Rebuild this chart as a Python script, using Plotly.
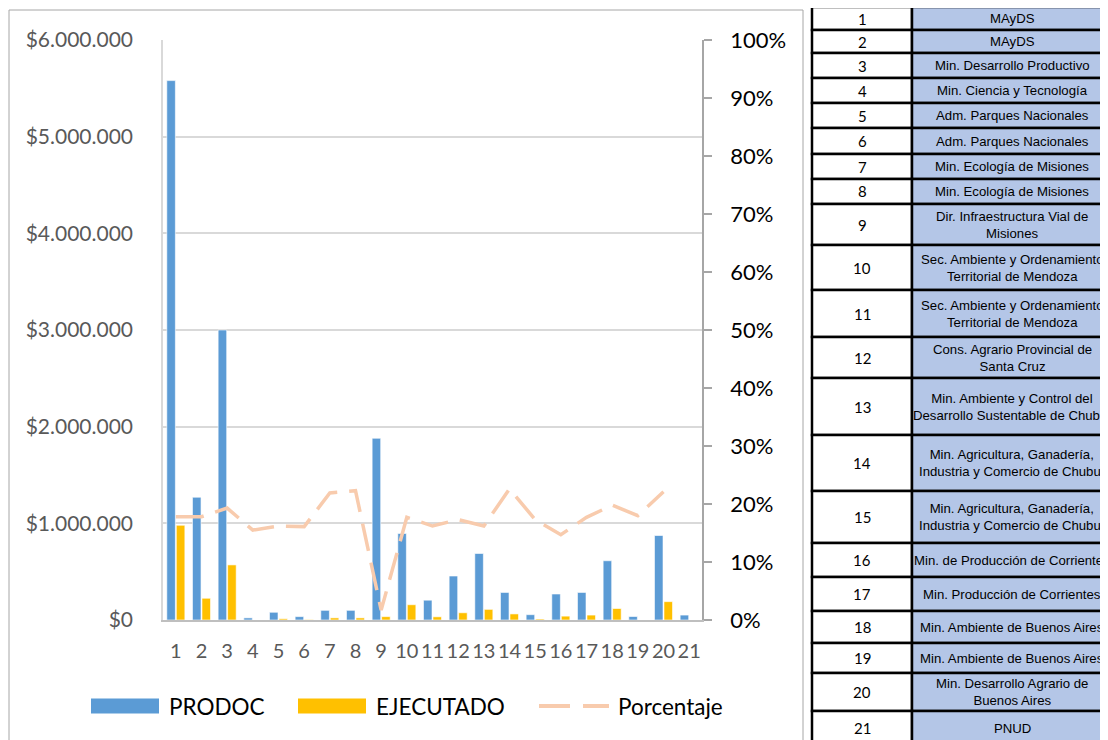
import plotly.graph_objects as go

# ---------------- data ----------------
categories = [str(i) for i in range(1, 22)]
prodoc = [5580000, 1270000, 3000000, 22000, 80000, 35000, 100000, 100000, 1880000, 895000,
          205000, 455000, 688000, 285000, 55000, 269000, 285000, 613000, 36000, 874000, 51000]
ejecutado = [980000, 225000, 570000, 0, 13000, 4000, 22000, 22000, 35000, 158000,
             33000, 75000, 110000, 63000, 10000, 40000, 51000, 119000, 0, 190000, 0]
porcentaje = [0.178, 0.178, 0.193, 0.155, 0.162, 0.161, 0.219, 0.223, 0.017, 0.177,
              0.162, 0.173, 0.162, 0.226, 0.173, 0.147, 0.177, 0.198, 0.180, 0.221, None]

y1_tickvals = [0, 1000000, 2000000, 3000000, 4000000, 5000000, 6000000]
y1_ticktext = ["$0", "$1.000.000", "$2.000.000", "$3.000.000", "$4.000.000", "$5.000.000", "$6.000.000"]

table_nums = [str(i) for i in range(1, 22)]
table_names = [
    "MAyDS", "MAyDS", "Min. Desarrollo Productivo", "Min. Ciencia y Tecnología",
    "Adm. Parques Nacionales", "Adm. Parques Nacionales", "Min. Ecología de Misiones",
    "Min. Ecología de Misiones", "Dir. Infraestructura Vial de<br>Misiones",
    "Sec. Ambiente y Ordenamiento<br>Territorial de Mendoza",
    "Sec. Ambiente y Ordenamiento<br>Territorial de Mendoza",
    "Cons. Agrario Provincial de<br>Santa Cruz",
    "Min. Ambiente y Control del<br>Desarrollo Sustentable de Chubut",
    "Min. Agricultura, Ganadería,<br>Industria y Comercio de Chubut",
    "Min. Agricultura, Ganadería,<br>Industria y Comercio de Chubut",
    "Min. de Producción de Corrientes", "Min. Producción de Corrientes",
    "Min. Ambiente de Buenos Aires", "Min. Ambiente de Buenos Aires",
    "Min. Desarrollo Agrario de<br>Buenos Aires", "PNUD",
]

# ---------------- style / layout ----------------
OFF = 8                     # page body margin of the browser
W, H = 1108 - OFF, 740 - OFF
BLUE, GOLD, PEACH = "#5B9BD5", "#FFC000", "#F8CBAD"
FONT = "Lato"
row_heights = [23, 23, 25, 25, 25, 26, 25, 25, 41, 45, 47, 41, 57, 56, 52, 34, 34, 32, 30, 38, 34]
table_top = 7
col_x = [812, 912, 1120]


def px(x):
    return (x - OFF) / W


def py(y):
    return 1 - (y - OFF) / H


fig = go.Figure()
fig.add_trace(go.Bar(x=categories, y=prodoc, name="PRODOC", marker_color=BLUE,
                     marker_line_color="white", marker_line_width=0.6, showlegend=False))
fig.add_trace(go.Bar(x=categories, y=ejecutado, name="EJECUTADO", marker_color=GOLD,
                     marker_line_color="white", marker_line_width=0.6, showlegend=False))
fig.add_trace(go.Scatter(x=categories, y=porcentaje, name="Porcentaje", yaxis="y2", mode="lines",
                         line=dict(color=PEACH, width=3.5, dash="28px,12px"),
                         connectgaps=False, showlegend=False))

shapes = []
annotations = []

# chart border
shapes.append(dict(type="rect", xref="paper", yref="paper", x0=px(9), x1=px(803), y0=py(760), y1=py(10),
                   line=dict(color="#A6A6A6", width=1), fillcolor="rgba(0,0,0,0)", layer="below"))

# custom legend
legend_items = [("PRODOC", BLUE, 91, 159, 167, "bar"), ("EJECUTADO", GOLD, 298, 366, 374, "bar"),
                ("Porcentaje", PEACH, 539, 609, 616, "line")]
ly = 706
for name, col, x0, x1, tx, kind in legend_items:
    if kind == "bar":
        shapes.append(dict(type="rect", xref="paper", yref="paper", x0=px(x0), x1=px(x1),
                           y0=py(ly + 7.5), y1=py(ly - 7.5), fillcolor=col, line=dict(width=0)))
    else:
        shapes.append(dict(type="line", xref="paper", yref="paper", x0=px(x0), x1=px(x0 + 31),
                           y0=py(ly), y1=py(ly), line=dict(color=col, width=4)))
        shapes.append(dict(type="line", xref="paper", yref="paper", x0=px(x0 + 44), x1=px(x1),
                           y0=py(ly), y1=py(ly), line=dict(color=col, width=4)))
    annotations.append(dict(text=name, xref="paper", yref="paper", x=px(tx), y=py(ly),
                            xanchor="left", yanchor="middle", showarrow=False,
                            font=dict(family=FONT, size=22.5, color="#000000")))

# table
y = table_top
for num, name, h in zip(table_nums, table_names, row_heights):
    y0, y1 = y, y + h
    shapes.append(dict(type="rect", xref="paper", yref="paper", x0=px(col_x[0]), x1=px(col_x[1]),
                       y0=py(y1), y1=py(y0), fillcolor="white", line=dict(color="black", width=2.5)))
    shapes.append(dict(type="rect", xref="paper", yref="paper", x0=px(col_x[1]), x1=px(col_x[2]),
                       y0=py(y1), y1=py(y0), fillcolor="#B4C6E7", line=dict(color="black", width=2.5)))
    annotations.append(dict(text=num, xref="paper", yref="paper", x=px((col_x[0] + col_x[1]) / 2),
                            y=py((y0 + y1) / 2), xanchor="center", yanchor="middle", showarrow=False,
                            font=dict(family=FONT, size=15, color="black")))
    annotations.append(dict(text=name, xref="paper", yref="paper", x=px(1012),
                            y=py((y0 + y1) / 2), xanchor="center", yanchor="middle", showarrow=False,
                            align="center",
                            font=dict(family="Liberation Sans, Arial", size=13.2, color="black")))
    y = y1

fig.update_layout(
    width=W, height=H,
    margin=dict(l=0, r=0, t=0, b=0, pad=0),
    paper_bgcolor="white", plot_bgcolor="white",
    barmode="group", bargap=0.26, bargroupgap=0.1,
    showlegend=False,
    shapes=shapes, annotations=annotations,
    xaxis=dict(domain=[px(163), px(702)], type="category", showgrid=False,
               showline=True, linecolor="#BFBFBF", linewidth=1.5, ticks="",
               tickfont=dict(family=FONT, size=20, color="#595959"), ticklabelstandoff=12,
               automargin=False, zeroline=False),
    yaxis=dict(domain=[py(620), py(40)], range=[0, 6000000], tickvals=y1_tickvals, ticktext=y1_ticktext,
               showgrid=True, gridcolor="#D9D9D9", gridwidth=1.5, showline=True, linecolor="#D9D9D9",
               linewidth=1.5, ticks="", zeroline=False,
               tickfont=dict(family=FONT, size=21, color="#595959"), ticklabelstandoff=24,
               automargin=False),
    yaxis2=dict(overlaying="y", side="right", range=[0, 1], dtick=0.1, tickformat=".0%",
                showgrid=False, showline=True, linecolor="#A6A6A6", linewidth=1.5,
                ticks="outside", ticklen=8, tickcolor="#A6A6A6", tickwidth=1.5, zeroline=False,
                tickfont=dict(family=FONT, size=22, color="#000000"), ticklabelstandoff=14,
                automargin=False, anchor="x"),
)

fig.write_html("out.html")
